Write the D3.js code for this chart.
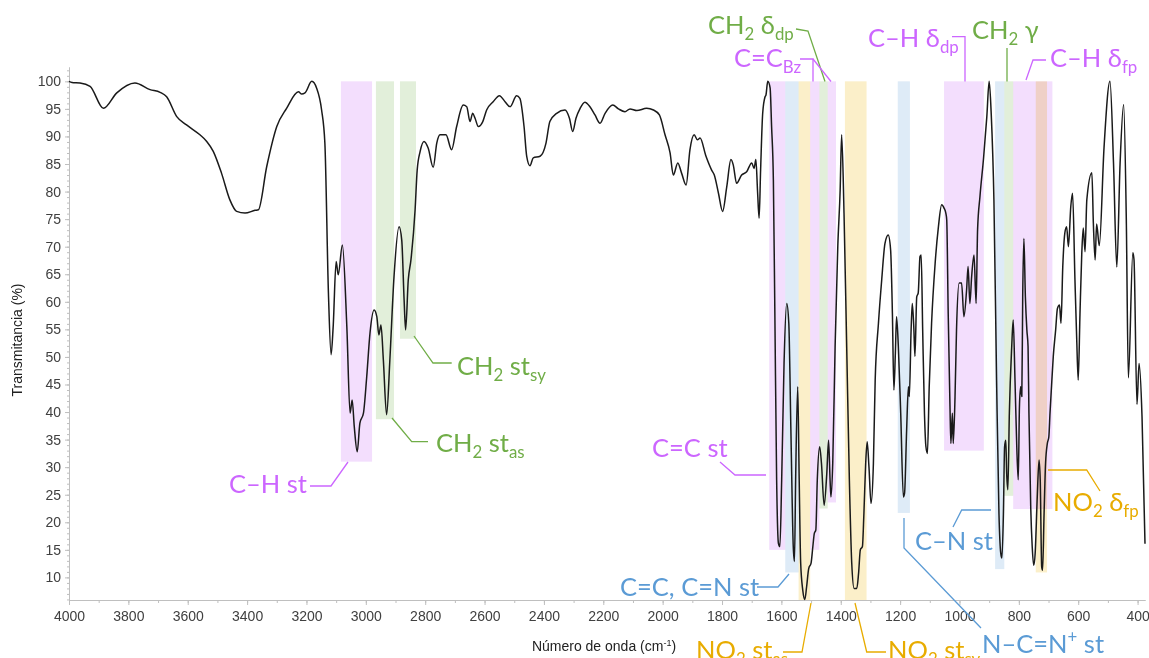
<!DOCTYPE html>
<html>
<head>
<meta charset="utf-8">
<script src="https://cdn.jsdelivr.net/npm/d3@7"></script>
<style>
body { margin: 0; background: #fff; }
</style>
</head>
<body>
<script>
// spectrum: [wavenumber (cm-1), transmittance (%)]
var spectrum = [
  [4000,100],[3990,99.8],[3963,99.7],[3929,99.1],[3884,95.1],[3839,97.9],[3778,99.7],[3727,98.5],
  [3693,98.0],[3671,97.2],[3637,93.6],[3604,92.1],[3559,90.3],[3536,89.1],[3514,87.3],[3486,83.3],
  [3458,78.5],[3435,76.4],[3407,76.1],[3373,76.6],[3362,76.7],[3334,84.5],[3300,91.8],[3267,95.1],
  [3227,98.1],[3216,97.7],[3205,97.9],[3182,100],[3166,98.8],[3149,94.8],[3138,88.8],[3126,61.6],
  [3117,50.4],[3110,55.5],[3100,67.3],[3093,64.9],[3079,70.3],[3064,55.5],[3053,39.8],[3046,42.2],
  [3039,37.4],[3029,32.8],[3020,38.0],[3008,39.8],[2997,46.4],[2986,54.3],[2972,58.5],[2963,57.3],
  [2956,54.0],[2949,55.8],[2941,49.5],[2930,39.5],[2919,49.5],[2905,64.6],[2888,73.6],[2879,71.2],
  [2871,60.3],[2866,54.9],[2857,64.0],[2848,67.6],[2834,76.7],[2827,83.9],[2817,87.3],[2804,89.1],
  [2790,87.9],[2773,84.4],[2761,88.8],[2750,90.3],[2730,90.3],[2711,87.6],[2694,91.8],[2672,95.7],
  [2660,95.4],[2649,92.7],[2640,94.2],[2632,93.3],[2621,91.8],[2606,92.7],[2593,94.8],[2571,96.3],
  [2550,97.4],[2531,96.3],[2514,95.4],[2492,97.4],[2481,96.9],[2467,91.8],[2458,86.4],[2447,84.7],
  [2436,86.1],[2413,86.4],[2393,88.8],[2380,92.7],[2357,94.2],[2329,94.8],[2314,93.3],[2303,90.9],
  [2292,93.3],[2278,95.1],[2262,96.2],[2245,95.4],[2228,93.9],[2211,92.4],[2194,94.2],[2168,95.7],
  [2149,95.0],[2127,94.5],[2110,95.0],[2087,94.7],[2054,95.1],[2031,94.8],[2011,93.9],[1992,90.3],
  [1975,87.0],[1964,83.0],[1949,85.2],[1936,83.3],[1921,81.2],[1908,87.6],[1894,90.3],[1883,89.4],
  [1874,89.7],[1854,86.4],[1835,83.9],[1826,83.0],[1812,79.7],[1798,76.4],[1784,80.9],[1770,85.8],
  [1762,84.8],[1751,81.5],[1734,83.0],[1717,83.6],[1700,85.2],[1692,84.2],[1686,85.8],[1680,79.7],
  [1675,75.2],[1670,83.9],[1663,94.2],[1655,97.2],[1652,97.5],[1646,100],[1638,98.8],[1633,91.8],
  [1627,82.1],[1622,57.9],[1616,27.7],[1610,16.2],[1605,15.6],[1599,27.7],[1591,48.9],[1582,59.7],
  [1575,56.1],[1568,36.8],[1560,15.6],[1556,12.9],[1552,27.7],[1545,44.6],[1540,27.7],[1535,12.6],
  [1528,7.7],[1521,6.0],[1515,8.3],[1508,11.6],[1500,12.6],[1494,15.6],[1489,18.0],[1484,18.6],
  [1479,27.7],[1471,33.7],[1465,30.7],[1456,23.1],[1447,28.9],[1441,34.9],[1436,27.7],[1433,24.6],
  [1427,30.7],[1419,51.9],[1410,70.0],[1402,80.3],[1397,90.3],[1389,76.1],[1380,51.9],[1371,27.7],
  [1363,12.6],[1355,8.0],[1346,8.0],[1340,10.7],[1334,15.0],[1327,15.6],[1322,21.6],[1316,30.7],
  [1311,34.6],[1305,30.1],[1298,23.4],[1290,30.7],[1284,45.8],[1273,56.1],[1262,64.0],[1251,70.6],
  [1240,72.1],[1232,69.4],[1226,57.9],[1221,44.0],[1216,50.7],[1212,57.3],[1206,51.9],[1198,39.8],
  [1189,24.6],[1185,25.3],[1178,36.8],[1172,44.6],[1169,42.8],[1163,54.9],[1159,59.7],[1154,55.5],
  [1150,50.1],[1144,60.9],[1139,61.6],[1133,68.2],[1129,68.5],[1124,54.9],[1118,39.8],[1113,33.7],
  [1108,32.5],[1102,44.6],[1094,56.1],[1082,67.0],[1071,73.6],[1060,77.6],[1052,77.0],[1046,76.1],
  [1043,74.9],[1038,57.9],[1032,41.0],[1029,34.3],[1024,39.8],[1021,34.3],[1015,42.8],[1010,54.9],
  [1001,63.4],[993,63.4],[985,57.3],[976,62.2],[971,66.4],[965,59.7],[959,64.6],[951,68.5],
  [944,59.7],[939,73.1],[931,79.1],[919,86],[908,93.5],[900,100],[893,94],[884,78.5],
  [875,45.8],[867,21.6],[861,14.4],[857,13.5],[852,21.6],[848,33.7],[844,34.9],[841,28.9],
  [837,25.9],[832,39.8],[824,51.9],[819,56.7],[813,45.8],[807,33.7],[802,27.7],[798,41.0],
  [794,44.6],[790,42.8],[787,60.9],[783,71.5],[778,60.9],[773,54.9],[769,51.9],[766,39.8],
  [760,22.8],[755,15.6],[750,12.2],[745,14.4],[738,24.6],[732,31.3],[728,27.7],[723,11.9],
  [720,11.3],[715,21.6],[710,30.7],[704,34.3],[699,35.5],[695,39.8],[690,44.6],[684,50.1],
  [676,54.9],[670,58.8],[663,59.4],[658,56.1],[652,66.4],[645,72.5],[639,73.6],[633,70.0],
  [625,77.3],[619,79.7],[611,64.0],[605,53.1],[600,45.8],[594,57.9],[588,68.8],[583,73.4],
  [577,69.1],[571,78.5],[554,83.4],[549,74.3],[543,67.6],[538,74.1],[529,70.2],[513,88],
  [493,100],[481,85],[470,66.3],[459,85],[447,95.8],[438,75],[431,46.2],[416,68.9],
  [412,67.6],[402,41.4],[395,48.8],[385,39.1],[375,16.1]
];

// highlighted bands: [high wavenumber, low wavenumber, lower edge (%), colour group]
var bands = [
  [3084, 2979, 31.0, "purple"],
  [2966, 2905, 38.7, "green"],
  [2885, 2831, 53.3, "green"],
  [1641, 1587, 15.0, "purple"],
  [1587, 1542, 10.9, "blue"],
  [1542, 1503, 5.9, "yellow"],
  [1503, 1472, 15.0, "purple"],
  [1472, 1444, 22.5, "green"],
  [1444, 1416, 23.6, "purple"],
  [1386, 1313, 5.9, "yellow"],
  [1208, 1167, 21.7, "blue"],
  [1052, 918, 33.0, "purple"],
  [880, 849, 11.5, "blue"],
  [849, 819, 24.8, "green"],
  [819, 687, 22.4, "purple"],
  [743, 705, 10.9, "yellow"]
];

var xTicks = d3.range(4000, 399, -200);
var yTicks = d3.range(10, 101, 5);

var fills = { purple: "#f3defd", green: "#e2efda", blue: "#deebf7", yellow: "#fbefc9" };
var inks = { purple: "#cc66ff", green: "#70ad47", blue: "#5b9bd5", yellow: "#e8ac00" };

var w = 1149;
var h = 658;

var svg = d3.select("body").append("svg")
    .attr("width", w)
    .attr("height", h);

var x = d3.scaleLinear().domain([4000, 375]).range([69, 1145]);
var y = d3.scaleLinear().domain([5.9, 102.6]).range([600, 67]);

// bands
svg.append("g")
  .selectAll("rect")
  .data(bands)
  .enter()
  .append("rect")
    .attr("x", function(d) { return x(d[0]); })
    .attr("width", function(d) { return x(d[1]) - x(d[0]); })
    .attr("y", y(100))
    .attr("height", function(d) { return y(d[2]) - y(100); })
    .attr("fill", function(d) { return fills[d[3]]; })
    .style("mix-blend-mode", "multiply");

// axes
var axisFont = "'Liberation Sans', Arial, sans-serif";

var xMinor = svg.append("g")
    .attr("transform", "translate(0," + y.range()[0] + ")")
    .call(d3.axisBottom(x).tickValues(d3.range(4000, 374, -100)).tickSize(3).tickSizeOuter(0).tickFormat(""));

var xAxis = svg.append("g")
    .attr("transform", "translate(0," + y.range()[0] + ")")
    .call(d3.axisBottom(x).tickValues(xTicks).tickSize(5).tickSizeOuter(0).tickPadding(6).tickFormat(d3.format("d")));

var yMinor = svg.append("g")
    .attr("transform", "translate(" + x.range()[0] + ",0)")
    .call(d3.axisLeft(y).tickValues(d3.range(6, 103, 1)).tickSize(2).tickSizeOuter(0).tickFormat(""));

var yAxis = svg.append("g")
    .attr("transform", "translate(" + x.range()[0] + ",0)")
    .call(d3.axisLeft(y).tickValues(yTicks).tickSize(4).tickSizeOuter(0).tickPadding(4));

svg.selectAll(".domain, .tick line").attr("stroke", "#bfbfbf");
svg.selectAll(".tick text")
    .attr("font-family", axisFont)
    .attr("font-size", "14px")
    .attr("fill", "#404040");

svg.append("text")
    .attr("transform", "translate(21.5,340) rotate(-90)")
    .attr("text-anchor", "middle")
    .attr("font-family", axisFont)
    .attr("font-size", "14px")
    .attr("fill", "#222")
    .text("Transmitancia (%)");

var xt = svg.append("text")
    .attr("x", 604)
    .attr("y", 651)
    .attr("text-anchor", "middle")
    .attr("font-family", axisFont)
    .attr("font-size", "14px")
    .attr("fill", "#222");
xt.append("tspan").text("Número de onda (cm");
xt.append("tspan").text("-1").attr("font-size", "9px").attr("dy", -5);
xt.append("tspan").text(")").attr("dy", 5);

// spectrum
var line = d3.line()
    .x(function(d) { return x(d[0]); })
    .y(function(d) { return y(d[1]); })
    .curve(d3.curveMonotoneX);

svg.append("path")
    .datum(spectrum)
    .attr("d", line)
    .attr("fill", "none")
    .attr("stroke", "#1a1a1a")
    .attr("stroke-width", 1.5)
    .attr("stroke-linejoin", "round");

// annotations (label anchor and leader line in px)
var notes = [
  { c: "purple", x: 229, y: 493, parts: [["C–H st"]], lines: [[[310,486],[331,486],[348,462]]] },
  { c: "green", x: 436, y: 452, parts: [["CH"],["2","sub"],[" st"],["as","sub"]], lines: [[[392,418],[411.7,441.7],[428,441.7]]] },
  { c: "green", x: 457, y: 375, parts: [["CH"],["2","sub"],[" st"],["sy","sub"]], lines: [[[414,336],[433,363],[451.7,363]]] },
  { c: "purple", x: 652, y: 457, parts: [["C=C st"]], lines: [[[720,462],[735,475],[766,475]]] },
  { c: "blue", x: 620, y: 596, parts: [["C=C, C=N st"]], lines: [[[757,587],[778,587],[789,574]]] },
  { c: "yellow", x: 696, y: 659, parts: [["NO"],["2","sub"],[" st"],["as","sub"]], lines: [[[783,652],[802,652],[811,603]]] },
  { c: "yellow", x: 888, y: 659, parts: [["NO"],["2","sub"],[" st"],["sy","sub"]], lines: [[[855,603],[866.7,652],[886,652]]] },
  { c: "blue", x: 982, y: 653, parts: [["N–C=N"],["+","sup"],[" st"]], lines: [[[904,518],[904,548],[981,628]]] },
  { c: "blue", x: 915, y: 550, parts: [["C–N st"]], lines: [[[953,527],[961.7,510],[991,510]]] },
  { c: "yellow", x: 1053, y: 511, parts: [["NO"],["2","sub"],[" δ"],["fp","sub"]], lines: [[[1048,470],[1086.7,470],[1100,491]]] },
  { c: "green", x: 708, y: 34, parts: [["CH"],["2","sub"],[" δ"],["dp","sub"]], lines: [[[796,29],[808,31],[825,81.5]]] },
  { c: "purple", x: 734, y: 67, parts: [["C=C"],["Bz","sub"]], lines: [[[800,59],[813,59],[813,81.5]], [[813,59],[831,81.5]]] },
  { c: "purple", x: 868, y: 47, parts: [["C–H δ"],["dp","sub"]], lines: [[[952,36.7],[965,36.7],[965,81.5]]] },
  { c: "green", x: 972, y: 39, parts: [["CH"],["2","sub"],[" γ"]], lines: [[[1007,48],[1007,81.5]]] },
  { c: "purple", x: 1050, y: 67, parts: [["C–H δ"],["fp","sub"]], lines: [[[1046,60],[1033,60],[1026,80]]] }
];

var fs = 25.5;
var noteG = svg.append("g");

notes.forEach(function(n) {
  n.lines.forEach(function(pts) {
    noteG.append("polyline")
      .attr("points", pts.map(function(p) { return p.join(","); }).join(" "))
      .attr("fill", "none")
      .attr("stroke", inks[n.c])
      .attr("stroke-width", 1.3);
  });
  var t = noteG.append("text")
      .attr("x", n.x)
      .attr("y", n.y)
      .attr("fill", inks[n.c])
      .attr("font-family", "Lato, 'Open Sans', 'Noto Sans', sans-serif")
      .attr("font-size", fs + "px");
  var shift = 0;
  n.parts.forEach(function(p) {
    var s = p[1] === "sub" ? fs * 0.24 : (p[1] === "sup" ? -fs * 0.4 : 0);
    t.append("tspan")
      .text(p[0])
      .attr("dy", s - shift)
      .attr("font-size", (p[1] ? fs * 0.66 : fs) + "px");
    shift = s;
  });
});
</script>
</body>
</html>
